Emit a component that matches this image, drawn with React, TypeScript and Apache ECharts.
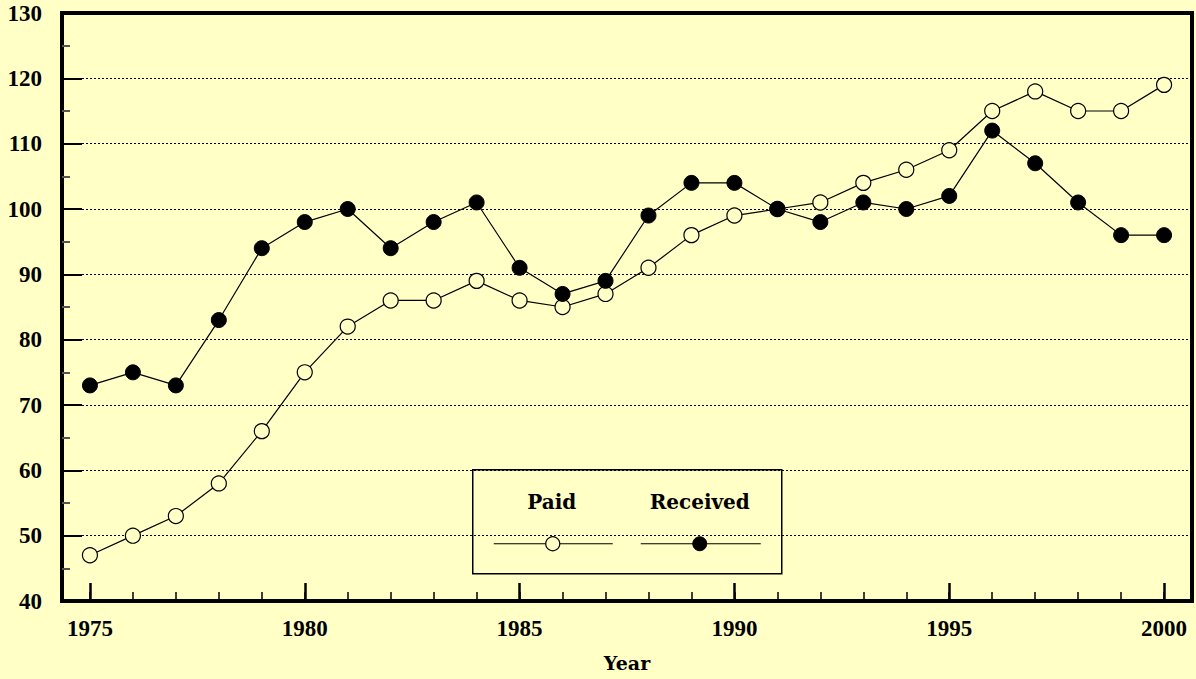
import React, { useEffect, useRef } from "react";
import * as echarts from "echarts";

const years = [1975, 1976, 1977, 1978, 1979, 1980, 1981, 1982, 1983, 1984, 1985, 1986, 1987, 1988, 1989, 1990, 1991, 1992, 1993, 1994, 1995, 1996, 1997, 1998, 1999, 2000];
const paid = [47, 50, 53, 58, 66, 75, 82, 86, 86, 89, 86, 85, 87, 91, 96, 99, 100, 101, 104, 106, 109, 115, 118, 115, 115, 119];
const received = [73, 75, 73, 83, 94, 98, 100, 94, 98, 101, 91, 87, 89, 99, 104, 104, 100, 98, 101, 100, 102, 112, 107, 101, 96, 96];
const xLabelYears = [1975, 1980, 1985, 1990, 1995, 2000];

const BG = "#FFFFC6";
const FONT = "'Liberation Serif', 'Times New Roman', serif";
const WFONT = "'DejaVu Serif', serif";

export default function App() {
  const ref = useRef<HTMLDivElement>(null);
  useEffect(() => {
    const chart = echarts.init(ref.current!, null, { renderer: "svg" });
    const xMin = 1974.35;
    const xMax = 2000.65;
    chart.setOption({
      animation: false,
      backgroundColor: BG,
      textStyle: { fontFamily: FONT },
      grid: {
        left: 62, right: 4, top: 13, bottom: 78,
        show: true, borderColor: "#000", borderWidth: 4, backgroundColor: "transparent",
      },
      xAxis: [
        {
          type: "value", min: xMin, max: xMax,
          name: "Year", nameLocation: "middle", nameGap: 52,
          nameTextStyle: { fontFamily: WFONT, fontWeight: "bold", fontSize: 19, color: "#000" },
          axisLine: { show: true, lineStyle: { color: "#000", width: 4 } },
          axisTick: { show: true, inside: true, length: 18, customValues: xLabelYears, lineStyle: { color: "#000", width: 2.5 } },
          axisLabel: { customValues: xLabelYears, formatter: (v: number) => String(Math.round(v)), fontFamily: FONT, fontWeight: "bold", fontSize: 23, color: "#000", margin: 16 },
          splitLine: { show: false },
        },
        {
          type: "value", min: xMin, max: xMax, position: "bottom",
          axisLine: { show: false },
          axisTick: { show: true, inside: true, length: 9, customValues: years, lineStyle: { color: "#000", width: 1.5 } },
          axisLabel: { show: false },
          splitLine: { show: false },
        },
      ],
      yAxis: {
        type: "value", min: 40, max: 130, interval: 10,
        axisLine: { show: true, lineStyle: { color: "#000", width: 4 } },
        axisTick: { show: true, inside: true, length: 20, lineStyle: { color: "#000", width: 2 } },
        minorTick: { show: true, splitNumber: 2, length: 8, lineStyle: { color: "#555", width: 2 } },
        axisLabel: { fontFamily: FONT, fontWeight: "bold", fontSize: 23, color: "#000", margin: 20 },
        splitLine: { show: true, lineStyle: { color: "#000", type: [2, 2], width: 1 } },
      },
      series: [
        {
          name: "Paid", type: "line",
          data: years.map((y, i) => [y, paid[i]]),
          symbol: "circle", symbolSize: 15,
          lineStyle: { color: "#000", width: 1.2 },
          itemStyle: { color: BG, borderColor: "#000", borderWidth: 1.2 },
          z: 3,
        },
        {
          name: "Received", type: "line",
          data: years.map((y, i) => [y, received[i]]),
          symbol: "circle", symbolSize: 15,
          lineStyle: { color: "#000", width: 1.2 },
          itemStyle: { color: "#000", borderColor: "#000", borderWidth: 1 },
          z: 3,
        },
      ],
      graphic: [
        {
          type: "group", left: 472, top: 469, z: 10,
          children: [
            { type: "rect", shape: { x: 0, y: 0, width: 309, height: 104 }, style: { fill: BG, stroke: "#000", lineWidth: 1.5 } },
            { type: "text", x: 79, y: 32, style: { text: "Paid", font: `bold 20px ${WFONT}`, fill: "#000", textAlign: "center", textVerticalAlign: "middle" } },
            { type: "text", x: 227, y: 32, style: { text: "Received", font: `bold 20px ${WFONT}`, fill: "#000", textAlign: "center", textVerticalAlign: "middle" } },
            { type: "line", shape: { x1: 21, y1: 74, x2: 140, y2: 74 }, style: { stroke: "#000", lineWidth: 1.2 } },
            { type: "circle", shape: { cx: 80, cy: 74, r: 7 }, style: { fill: BG, stroke: "#000", lineWidth: 1.2 } },
            { type: "line", shape: { x1: 168, y1: 74, x2: 288, y2: 74 }, style: { stroke: "#000", lineWidth: 1.2 } },
            { type: "circle", shape: { cx: 227, cy: 74, r: 7 }, style: { fill: "#000", stroke: "#000", lineWidth: 1 } },
          ],
        },
      ],
    });
    return () => chart.dispose();
  }, []);
  return <div ref={ref} style={{ position: "fixed", left: 0, top: 0, width: 1196, height: 679 }} />;
}
